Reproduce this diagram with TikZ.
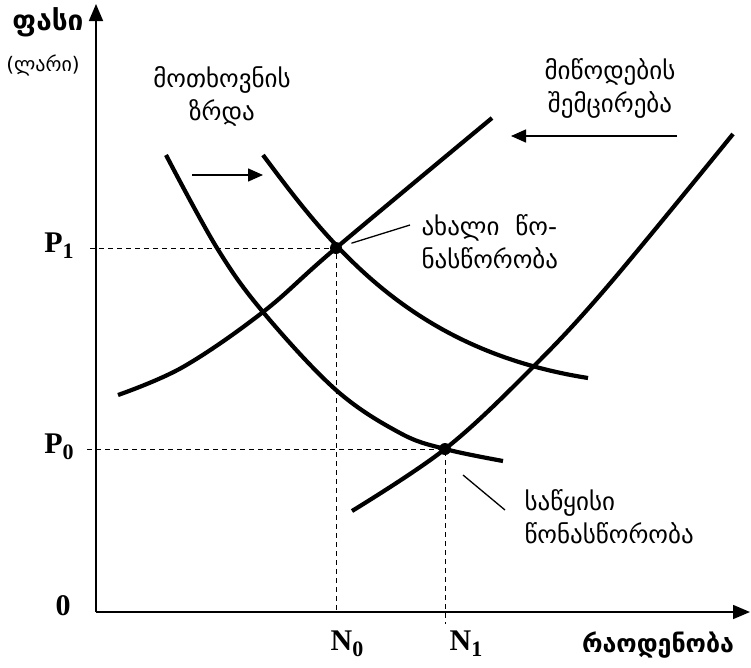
\documentclass[tikz,border=0pt]{standalone}
\usepackage{fontspec}
\setmainfont{Liberation Serif}
\newfontfamily\geo{DejaVu Sans}
\usetikzlibrary{arrows.meta}

\newcommand{\lowsub}[2]{\textbf{#1\raisebox{-6pt}{\fontsize{22}{22}\selectfont #2}}}

\begin{document}
\begin{tikzpicture}[
  x=1pt, y=-1pt,
  axis/.style={line width=1.6pt, -{Triangle[length=17pt,width=14pt]}},
  curve/.style={line width=4.2pt},
  guide/.style={line width=0.8pt, dash pattern=on 5pt off 4pt},
  shiftarr/.style={line width=1.5pt, -{Triangle[length=15pt,width=13pt]}},
  lead/.style={line width=1.3pt},
  dot/.style={circle, fill, inner sep=0pt, minimum size=12pt},
  tick/.style={font=\fontsize{30}{30}\selectfont\bfseries},
  axlbl/.style={font=\geo\fontsize{#1}{30}\selectfont\bfseries},
  txt/.style={font=\geo\fontsize{25}{33}\selectfont, align=center}
]
\useasboundingbox (0,0) rectangle (751,667);

% axes
\coordinate (origin) at (96,612);
\coordinate (ytop) at (96,4);
\coordinate (xend) at (750,612);
\draw[axis] (origin) -- (ytop);
\draw[axis] (origin) -- (xend);

% equilibrium points
\node[dot] (e1) at (336,248) {};
\node[dot] (e0) at (445,449) {};

% guide lines
\draw[guide] (90,248) -- (e1.center) -- (336,612);
\draw[guide] (87,449) -- (e0.center) -- (445,624);

% demand curves
\draw[curve] plot[smooth, tension=0.6] coordinates
  {(166,155) (217,248) (263,312) (336,390) (400,433) (445,449) (503,461)};
\draw[curve] (263,155) .. controls (330,245) and (410,350) .. (588,378);

% supply curves
\draw[curve] plot[smooth, tension=0.6] coordinates
  {(352,511) (445,449) (530,370) (607,287) (733,134)};
\draw[curve] plot[smooth, tension=0.6] coordinates
  {(118,395) (183,367) (263,312) (336,248) (492,118)};

% shift arrows
\coordinate (dfrom) at (192,175);
\coordinate (dto) at (263,175);
\draw[shiftarr] (dfrom) -- (dto);
\coordinate (sfrom) at (677,136);
\coordinate (sto) at (511,136);
\draw[shiftarr] (sfrom) -- (sto);

% axis labels
\node[axlbl=28] (price) at (48,22) {ფასი};
\node[txt, font=\geo\fontsize{20}{24}\selectfont] (unit) at (43,65) {(ლარი)};
\node[axlbl=25] (qty) at (658,645) {რაოდენობა};
\node[tick] (p1) at (59,246) {\lowsub{P}{1}};
\node[tick] (p0) at (59,447) {\lowsub{P}{0}};
\node[tick] (zero) at (63,606) {0};
\node[tick] (n0) at (347,644) {\lowsub{N}{0}};
\node[tick] (n1) at (466,644) {\lowsub{N}{1}};

% curve labels
\node[txt] (dlbl) at (222,96) {მოთხოვნის\\ზრდა};
\node[txt] (slbl) at (610,88) {მიწოდების\\შემცირება};
\node[txt, anchor=west, align=left] (newlbl) at (418,242) {ახალი~~წო-\\ნასწორობა};
\node[txt, anchor=west, align=left] (oldlbl) at (521,517) {საწყისი\\წონასწორობა};

% leaders
\coordinate (newend) at (410,225);
\draw[lead, shorten <=10pt] (e1) -- (newend);
\coordinate (oldstart) at (463,475);
\coordinate (oldend) at (505,510);
\draw[lead] (oldstart) -- (oldend);
\end{tikzpicture}
\end{document}
